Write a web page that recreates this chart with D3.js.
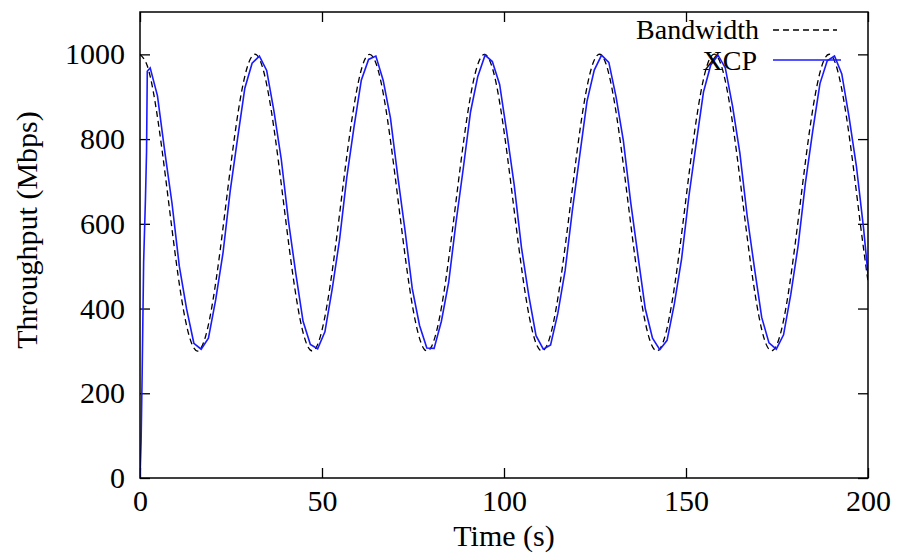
<!DOCTYPE html>
<html lang="en">
<head>
<meta charset="UTF-8">
<title>XCP throughput vs bandwidth</title>
<script src="https://d3js.org/d3.v7.min.js"></script>
<style>
  body { margin: 0; background: #fff; }
  svg text { font-family: "Liberation Serif", "Times New Roman", serif; font-size: 30px; fill: #000; }
</style>
</head>
<body>
<svg width="898" height="553"></svg>
<script>
// bandwidth sampled every 2 s, t = 0 .. 200
const bwStep = 2;
const bandwidth = [
  1000, 973, 895, 778, 642, 507, 394, 322, 300, 334,
  417, 536, 674, 807, 916, 983, 999, 959, 871, 749,
  611, 479, 374, 312, 303, 349, 441, 566, 705, 834,
  935, 992, 994, 943, 846, 718, 580, 452, 356, 305,
  309, 366, 467, 597, 735, 860, 952, 997, 987, 925,
  819, 687, 549, 427, 340, 301, 317, 385, 495, 628,
  766, 885, 967, 1000, 978, 904, 791, 656, 520, 404,
  327, 300, 328, 407, 523, 660, 795, 907, 979, 1000,
  965, 882, 762, 624, 491, 383, 316, 302, 342, 430,
  553, 691, 823, 927, 988, 997, 950, 857, 732, 593,
  464
];

// XCP start-up ramp
const xcpStartTimes = [0, 0.3, 0.6, 1.0, 1.5, 1.8, 2.0];
const xcpStartValues = [0, 85, 250, 510, 660, 770, 960];
// XCP afterwards, sampled at t = 2.8, 4.8, ... 198.8
const xcpFirst = 2.8;
const xcpValues = [
  968, 902, 771, 648, 500, 399, 318, 304, 330,
  421, 531, 679, 801, 920, 979, 996, 962, 866, 753,
  606, 483, 370, 315, 305, 345, 446, 561, 709, 829,
  939, 988, 996, 939, 850, 713, 585, 447, 360, 307,
  306, 370, 462, 602, 730, 864, 948, 998, 983, 929,
  814, 692, 544, 431, 336, 304, 314, 389, 490, 633,
  761, 889, 963, 998, 981, 899, 796, 651, 525, 400,
  330, 303, 325, 411, 518, 665, 790, 911, 975, 998,
  968, 877, 767, 619, 496, 379, 319, 304, 338, 434,
  548, 696, 818, 931, 985, 996, 954, 852, 737, 588
];
const xcpEnd = { t: 200, v: 480 };

const xTicks = [0, 50, 100, 150, 200];
const yTicks = [0, 200, 400, 600, 800, 1000];

const plotLeft = 140, plotRight = 868, plotTop = 12, plotBottom = 478;
const svg = d3.select("svg");

const x = d3.scaleLinear().domain([0, 200]).range([plotLeft, plotRight]);
const y = d3.scaleLinear().domain([0, 1100]).range([plotBottom, plotTop]);

const bwData = bandwidth.map((v, i) => ({ t: i * bwStep, v: v }));
const xcpData = xcpStartTimes.map((t, i) => ({ t: t, v: xcpStartValues[i] }))
  .concat(xcpValues.map((v, i) => ({ t: xcpFirst + i * bwStep, v: v })))
  .concat([xcpEnd]);

svg.append("defs").append("clipPath").attr("id", "plot")
  .append("rect").attr("x", plotLeft).attr("y", plotTop)
  .attr("width", plotRight - plotLeft).attr("height", plotBottom - plotTop);

// axes, ticks pointing inward and mirrored
function styleAxis(g) {
  g.select(".domain").remove();
  g.selectAll("line").attr("stroke", "#000").attr("stroke-width", 1.3);
  g.selectAll("text").attr("font-size", 30)
    .attr("font-family", '"Liberation Serif", "Times New Roman", serif');
}

svg.append("g").attr("transform", `translate(0,${plotBottom})`)
  .call(d3.axisBottom(x).tickValues(xTicks).tickFormat(d3.format("d"))
    .tickSize(-10).tickSizeOuter(0).tickPadding(12))
  .call(styleAxis);
svg.append("g").attr("transform", `translate(0,${plotTop})`)
  .call(d3.axisTop(x).tickValues(xTicks).tickSize(-10).tickSizeOuter(0).tickFormat(""))
  .call(styleAxis);
svg.append("g").attr("transform", `translate(${plotLeft},0)`)
  .call(d3.axisLeft(y).tickValues(yTicks).tickFormat(d3.format("d"))
    .tickSize(-10).tickSizeOuter(0).tickPadding(15))
  .call(styleAxis);
svg.append("g").attr("transform", `translate(${plotRight},0)`)
  .call(d3.axisRight(y).tickValues(yTicks).tickSize(-10).tickSizeOuter(0).tickFormat(""))
  .call(styleAxis);

const lines = svg.append("g").attr("clip-path", "url(#plot)");

lines.append("path")
  .datum(bwData)
  .attr("fill", "none")
  .attr("stroke", "#000")
  .attr("stroke-width", 1.3)
  .attr("stroke-dasharray", "6,4")
  .attr("d", d3.line().x(d => x(d.t)).y(d => y(d.v)).curve(d3.curveNatural));

lines.append("path")
  .datum(xcpData)
  .attr("fill", "none")
  .attr("stroke", "#1a1aff")
  .attr("stroke-width", 1.6)
  .attr("d", d3.line().x(d => x(d.t)).y(d => y(d.v)));

// frame
svg.append("rect")
  .attr("x", plotLeft).attr("y", plotTop)
  .attr("width", plotRight - plotLeft).attr("height", plotBottom - plotTop)
  .attr("fill", "none").attr("stroke", "#000").attr("stroke-width", 1.5);

// legend
const legend = svg.append("g");
legend.append("text").attr("x", 759).attr("y", 39).attr("text-anchor", "end")
  .style("font-size", "28px").text("Bandwidth");
legend.append("line").attr("x1", 773).attr("x2", 837).attr("y1", 30).attr("y2", 30)
  .attr("stroke", "#000").attr("stroke-width", 1.3).attr("stroke-dasharray", "6,4");
legend.append("text").attr("x", 757).attr("y", 70).attr("text-anchor", "end")
  .style("font-size", "28px").text("XCP");
legend.append("line").attr("x1", 773).attr("x2", 841).attr("y1", 60).attr("y2", 60)
  .attr("stroke", "#1a1aff").attr("stroke-width", 1.6);

// axis titles
svg.append("text")
  .attr("x", (plotLeft + plotRight) / 2).attr("y", 546)
  .attr("text-anchor", "middle")
  .text("Time (s)");
svg.append("text")
  .attr("transform", "translate(37,230) rotate(-90)")
  .attr("text-anchor", "middle")
  .text("Throughput (Mbps)");
</script>
</body>
</html>
